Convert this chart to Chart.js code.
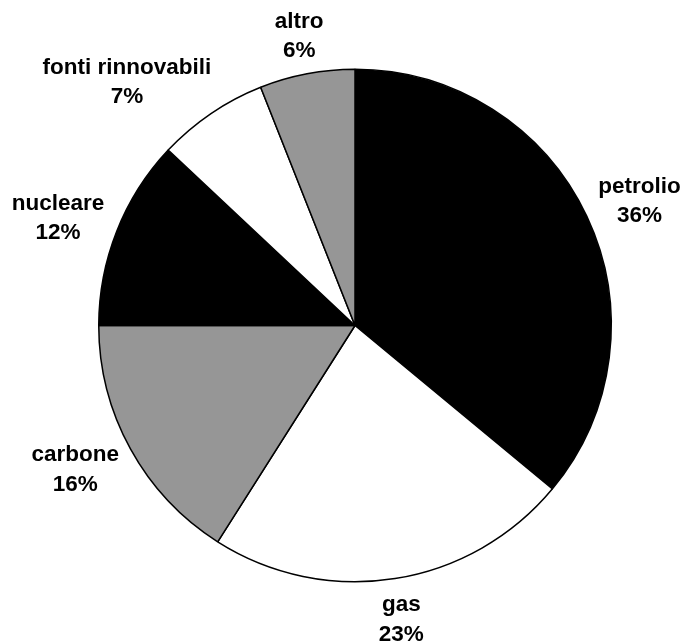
<!DOCTYPE html>
<html>
<head>
<meta charset="utf-8">
<script src="https://cdn.jsdelivr.net/npm/chart.js@4/dist/chart.umd.min.js"></script>
<style>
  html, body { margin: 0; padding: 0; background: #ffffff; }
  #wrap { width: 683px; height: 643px; }
</style>
</head>
<body>
<div id="wrap"><canvas id="pie" width="683" height="643"></canvas></div>
<script>
// Fonti energetiche: quote percentuali
const categories = ['petrolio', 'gas', 'carbone', 'nucleare', 'fonti rinnovabili', 'altro'];
const shares = [36, 23, 16, 12, 7, 6];
const fills = ['#000000', '#ffffff', '#969696', '#000000', '#ffffff', '#969696'];

const FONT_SIZE = 22.5;
const FONT = 'bold ' + FONT_SIZE + 'px "Liberation Sans", Arial, sans-serif';
const LINE = 29.5;
const GAP = 17;
const CLEAR = 8; // minimum free space between a label block and the pie rim

// Outside labels: category name over the percentage, placed past the slice's mid-angle
const outsideLabels = {
  id: 'outsideLabels',
  afterDatasetsDraw(chart) {
    const ctx = chart.ctx;
    const meta = chart.getDatasetMeta(0);
    const values = chart.data.datasets[0].data;
    const total = values.reduce((a, b) => a + b, 0);
    const cap = FONT_SIZE * 0.72;
    ctx.save();
    ctx.font = FONT;
    ctx.fillStyle = '#000000';
    ctx.textAlign = 'center';
    ctx.textBaseline = 'alphabetic';
    meta.data.forEach((arc, i) => {
      const p = arc.getProps(['x', 'y', 'startAngle', 'endAngle', 'outerRadius'], true);
      const mid = (p.startAngle + p.endAngle) / 2;
      const ux = Math.cos(mid), uy = Math.sin(mid);
      const lines = [chart.data.labels[i], Math.round(values[i] / total * 100) + '%'];
      const w = Math.max(...lines.map(t => ctx.measureText(t).width));
      const h = LINE + cap;
      const ax = p.x + (p.outerRadius + GAP) * ux;
      const ay = p.y + (p.outerRadius + GAP) * uy;
      let cx = ax + ux * w / 2;
      const cy = ay + uy * h / 2;

      // slide the block sideways while its nearest corner still crowds the rim
      const minDist = p.outerRadius + CLEAR;
      const dir = ux >= 0 ? 1 : -1;
      for (let k = 0; k < 200; k++) {
        const nx = Math.max(cx - w / 2, Math.min(p.x, cx + w / 2)) - p.x;
        const ny = Math.max(cy - h / 2, Math.min(p.y, cy + h / 2)) - p.y;
        if (Math.hypot(nx, ny) >= minDist) break;
        cx += dir;
      }

      ctx.fillText(lines[0], cx, cy - LINE / 2 + cap / 2);
      ctx.fillText(lines[1], cx, cy + LINE / 2 + cap / 2);
    });
    ctx.restore();
  }
};

new Chart(document.getElementById('pie'), {
  type: 'pie',
  data: {
    labels: categories,
    datasets: [{
      data: shares,
      backgroundColor: fills,
      borderColor: '#000000',
      borderWidth: 1.5
    }]
  },
  options: {
    responsive: false,
    animation: false,
    layout: { padding: { left: 98, right: 71, top: 68, bottom: 60 } },
    plugins: {
      legend: { display: false },
      tooltip: { enabled: false }
    }
  },
  plugins: [outsideLabels]
});
</script>
</body>
</html>
